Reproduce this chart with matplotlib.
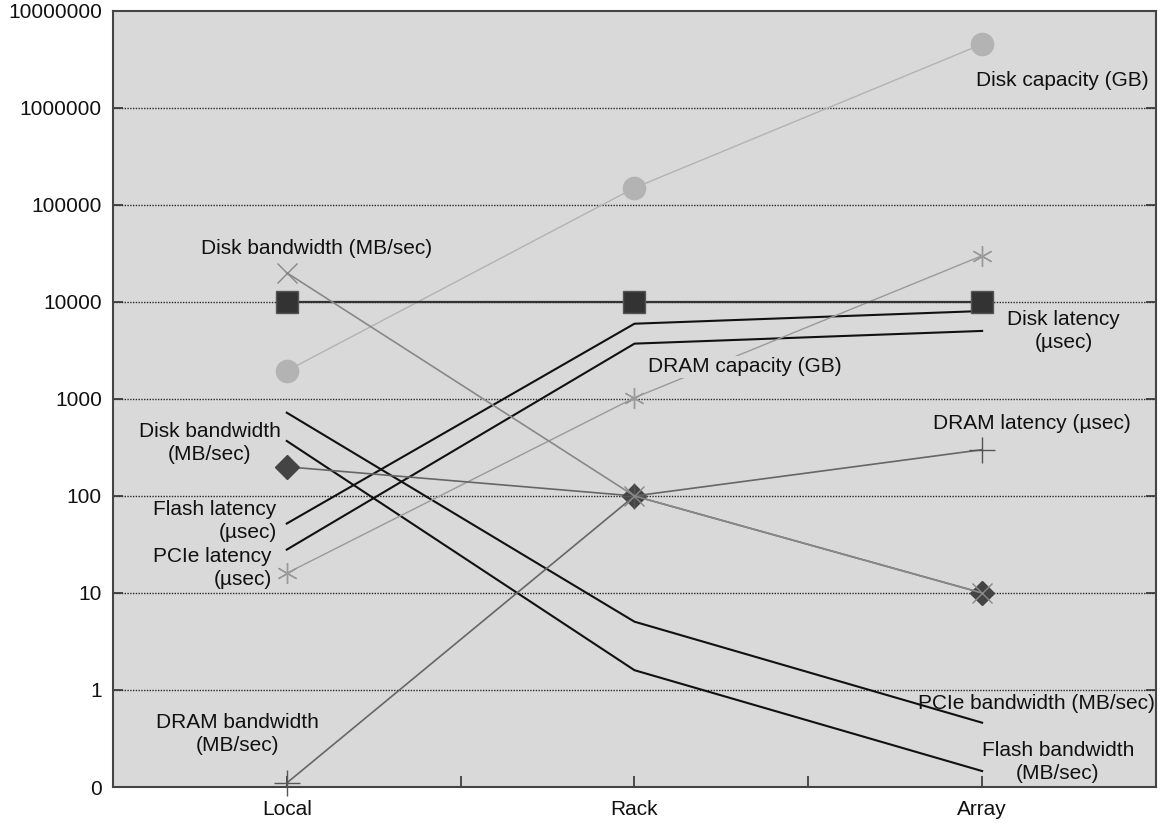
import numpy as np
import matplotlib.pyplot as plt

plt.rcParams['font.family'] = ['Liberation Sans', 'DejaVu Sans']

categories = ["Local", "Rack", "Array"]
y_ticks = [0.1, 1, 10, 100, 1000, 10000, 100000, 1000000, 10000000]
y_tick_labels = ["0", "1", "10", "100", "1000", "10000", "100000", "1000000", "10000000"]

# valores (escala log)
disk_capacity = [1950, 150000, 4550000]
disk_latency = [10000, 10000, 10000]
dram_capacity = [16, 1030, 30000]
cross_series = [20000, 100, 10]
diamond_series = [200, 100, 10]
plus_series = [0.11, 100, 300]
flash_latency = [52, 5970, 8070]
pcie_latency = [28, 3720, 5030]
pcie_bandwidth = [722, 5.06, 0.46]
flash_bandwidth = [369, 1.6, 0.146]

BG = "#d9d9d9"
x = np.arange(len(categories))

fig = plt.figure(figsize=(11.68, 8.24), dpi=100)
ax = fig.add_axes([0.0967, 0.0449, 0.893, 0.9418])
ax.set_facecolor(BG)
ax.set_yscale("log")
ax.set_ylim(0.1, 1e7)
ax.set_xlim(-0.5, 2.5)

# grilla punteada
for v in y_ticks[1:-1]:
    ax.axhline(v, color="#2a2a2a", lw=1.0, ls=(0, (1, 1)), zorder=1)

# lineas negras sin marcador
ax.plot(x, flash_latency, color="#111111", lw=1.5, zorder=3)
ax.plot(x, pcie_latency, color="#111111", lw=1.5, zorder=3)
ax.plot(x, pcie_bandwidth, color="#111111", lw=1.5, zorder=3)
ax.plot(x, flash_bandwidth, color="#111111", lw=1.5, zorder=3)

# series con marcadores
ax.plot(x, disk_capacity, color="#b3b3b3", lw=1.0, marker="o", ms=16,
        mfc="#b3b3b3", mec="#b3b3b3", zorder=4)
ax.plot(x, dram_capacity, color="#9a9a9a", lw=1.0, marker=(6, 2, 0), ms=15,
        mew=1.0, zorder=4)
ax.plot(x, disk_latency, color="#333333", lw=1.6, marker="s", ms=16,
        mfc="#333333", mec="#555555", zorder=5)
ax.plot(x, diamond_series, color="#666666", lw=1.2, marker="D", ms=12,
        mfc="#444444", mec="#444444", zorder=5)
ax.plot(x, plus_series, color="#666666", lw=1.2, marker="+", ms=19,
        mew=1.0, mec="#555555", zorder=5, clip_on=False)
ax.plot(x, cross_series, color="#888888", lw=1.2, marker="x", ms=14,
        mew=1.0, zorder=6)

fs = 15
tc = "#111111"
ax.text(0.086, 35200, "Disk bandwidth (MB/sec)", fontsize=fs, ha="center", va="center", color=tc)
ax.text(2.23, 1.9e6, "Disk capacity (GB)", fontsize=fs, ha="center", va="center", color=tc)
ax.text(2.235, 5000, "Disk latency\n(\u00b5sec)", fontsize=fs, ha="center", va="center",
        color=tc, linespacing=1.25)
ax.text(1.317, 2140, "DRAM capacity (GB)", fontsize=fs, ha="center", va="center", color=tc,
        zorder=4.5, bbox=dict(facecolor=BG, edgecolor="none", pad=1))
ax.text(2.143, 565, "DRAM latency (\u00b5sec)", fontsize=fs, ha="center", va="center", color=tc)
ax.text(2.155, 0.73, "PCIe bandwidth (MB/sec)", fontsize=fs, ha="center", va="center", color=tc)
ax.text(2.218, 0.18, "Flash bandwidth\n(MB/sec)", fontsize=fs, ha="center", va="center",
        color=tc, linespacing=1.25)
ax.text(-0.221, 352, "Disk bandwidth\n(MB/sec)", fontsize=fs, ha="center", va="center",
        color=tc, linespacing=1.25)
ax.text(-0.029, 55, "Flash latency\n(\u00b5sec)", fontsize=fs, ha="right", va="center",
        color=tc, linespacing=1.25, multialignment="right")
ax.text(-0.043, 18.1, "PCIe latency\n(\u00b5sec)", fontsize=fs, ha="right", va="center",
        color=tc, linespacing=1.25, multialignment="right")
ax.text(-0.141, 0.35, "DRAM bandwidth\n(MB/sec)", fontsize=fs, ha="center", va="center",
        color=tc, linespacing=1.25)

# ejes
ax.set_yticks(y_ticks)
ax.set_yticklabels(y_tick_labels)
ax.yaxis.set_minor_locator(plt.NullLocator())
ax.set_xticks([0, 0.5, 1, 1.5, 2])
ax.set_xticklabels([categories[0], "", categories[1], "", categories[2]])
ax.tick_params(axis="y", direction="in", length=7, width=1.2, right=True,
               labelsize=fs, pad=8, color="#333333", labelcolor=tc)
ax.tick_params(axis="x", direction="in", length=8, width=1.2, labelsize=fs,
               pad=9, color="#333333", labelcolor=tc)
for s in ax.spines.values():
    s.set_color("#444444")
    s.set_linewidth(1.5)

fig.savefig("out.png", dpi=100)
